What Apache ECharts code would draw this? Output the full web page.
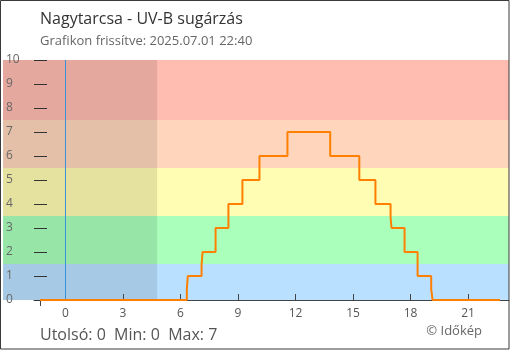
<!DOCTYPE html>
<html><head><meta charset="utf-8">
<script src="https://cdn.jsdelivr.net/npm/echarts@6/dist/echarts.min.js"></script>
<style>html,body{margin:0;padding:0;background:#fff}#c{width:510px;height:350px}</style>
</head><body><div id="c"></div>
<script>
const titleText = 'Nagytarcsa - UV-B sugárzás';
const subtitleText = 'Grafikon frissítve: 2025.07.01 22:40';
const footerText = 'Utolsó: 0  Min: 0  Max: 7';
const creditText = '© Időkép';

// step change times (hours relative to 2025.07.01 00:00) and the UV-B value held from that time on
const stepTimes = [-1.33, 6.33, 6.38, 7.10, 7.15, 7.83, 8.50, 9.23, 10.12, 11.58, 13.81, 15.33, 16.17, 16.96, 17.01, 17.69, 18.37, 19.08, 19.15, 22.67];
const uvValues  = [0, 0.45, 1, 1.45, 2, 3, 4, 5, 6, 7, 6, 5, 4, 3.45, 3, 2, 1, 0.45, 0, 0];

const xTickLabels = [0, 3, 6, 9, 12, 15, 18, 21];
const xTickMarks = [3, 6, 9, 12, 15, 18, 21];
const dataStartTick = [-1.33];

// UV level bands (lower edge, upper edge) and colours
const bandLower = [0, 1.5, 3.5, 5.5, 7.5];
const bandUpper = [1.5, 3.5, 5.5, 7.5, 10];
const bandColors = ['#b9e1ff', '#aaffbb', '#fffcb3', '#ffd6bb', '#ffbcb0'];

// night shading (hours) and midnight marker
const nightStart = -3.261;
const nightEnd = 4.78;
const midnight = 0;
const yMin = 0, yMax = 10;

const lineData = stepTimes.map((t, i) => [t, uvValues[i]]);

const chart = echarts.init(document.getElementById('c'), null, {renderer: 'canvas'});
const font = 'Open Sans';
const tTitle = (text, pos, size, color) => Object.assign({text: text, padding: 0,
  textStyle: {fontSize: size, fontWeight: 'normal', color: color, fontFamily: font}}, pos);
chart.setOption({
  animation: false,
  backgroundColor: '#fff',
  textStyle: {fontFamily: font},
  title: [
    tTitle(titleText, {left: 40, top: 11}, 16, '#333'),
    tTitle(subtitleText, {left: 40, top: 35}, 13, '#666'),
    tTitle(footerText, {left: 40, top: 327}, 16, '#555'),
    tTitle(creditText, {right: 28, top: 325}, 13, '#666')
  ],
  grid: [
    {left: 3, right: 1, top: 60, bottom: 50},
    {left: 34, right: 1, top: 60, bottom: 50}
  ],
  xAxis: [
    {type: 'value', gridIndex: 0, min: -3.261, max: 23.139, z: 5,
     axisLine: {show: false, onZero: false}, splitLine: {show: false},
     axisTick: {show: true, inside: false, length: 6, customValues: dataStartTick, lineStyle: {color: '#444'}},
     axisLabel: {show: false}},
    {type: 'value', gridIndex: 1, min: -1.6435, max: 23.139, z: 5,
     axisLine: {show: true, onZero: false, lineStyle: {color: '#444', width: 1}},
     splitLine: {show: false},
     axisTick: {show: true, inside: true, length: 6, customValues: xTickMarks, lineStyle: {color: '#444'}},
     axisLabel: {show: true, customValues: xTickLabels, color: '#555', fontSize: 12, margin: 8, fontFamily: font}}
  ],
  yAxis: [
    {type: 'value', gridIndex: 0, min: yMin, max: yMax, interval: 1, z: 10,
     axisLine: {show: false, onZero: false}, axisTick: {show: false}, splitLine: {show: false},
     axisLabel: {inside: true, margin: 3, color: '#666', fontSize: 12, fontFamily: font}},
    {type: 'value', gridIndex: 1, min: yMin, max: yMax, interval: 1, z: 10,
     axisLine: {show: false, onZero: false}, splitLine: {show: false},
     axisTick: {show: true, inside: true, length: 13, lineStyle: {color: '#333'}},
     axisLabel: {show: false}}
  ],
  series: [
    {type: 'line', xAxisIndex: 0, yAxisIndex: 0, data: [], z: 1, silent: true,
     markArea: {silent: true, data: bandLower.map((lo, i) => [
       {yAxis: lo, itemStyle: {color: bandColors[i]}}, {yAxis: bandUpper[i]}
     ])}},
    {type: 'line', xAxisIndex: 0, yAxisIndex: 0, data: [], z: 2, silent: true,
     markArea: {silent: true, data: [[
       {xAxis: nightStart, itemStyle: {color: 'rgba(0,0,0,0.1)'}}, {xAxis: nightEnd}
     ]]}},
    {type: 'line', xAxisIndex: 1, yAxisIndex: 1, z: 4, silent: true,
     data: [[midnight, yMin], [midnight, yMax]], symbol: 'none',
     lineStyle: {color: '#3890d8', width: 1}},
    {type: 'line', xAxisIndex: 1, yAxisIndex: 1, data: lineData, step: 'end', z: 12,
     symbol: 'none', lineStyle: {color: '#ff8000', width: 2}}
  ],
  graphic: [
    {type: 'rect', z: 100, shape: {x: 0.5, y: 0.5, width: 508.5, height: 348.5},
     style: {fill: null, stroke: '#3a3a3a', lineWidth: 1}}
  ]
});
</script>
</body></html>
